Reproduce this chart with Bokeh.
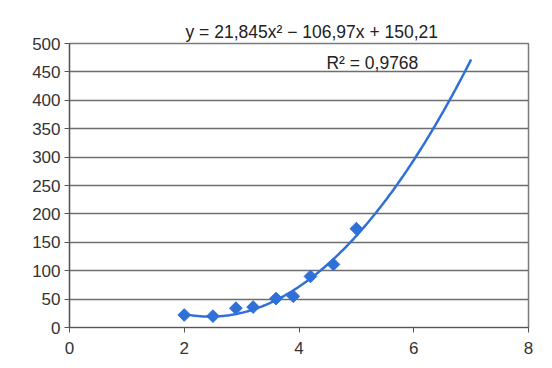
import numpy as np
from bokeh.plotting import figure
from bokeh.models import Range1d, FixedTicker, Label, Title
from bokeh.embed import file_html
from bokeh.resources import INLINE

# Measured points
x_vals = [2.0, 2.5, 2.9, 3.2, 3.6, 3.9, 4.2, 4.6, 5.0]
y_vals = [22, 20, 34, 36, 51, 55, 90, 111, 174]

# Trendline coefficients as printed on the chart
a2, a1, a0 = 21.845, -106.97, 150.21
trend_x_start, trend_x_end = 2.0, 7.0

x_ticks = [0, 2, 4, 6, 8]
y_ticks = [0, 50, 100, 150, 200, 250, 300, 350, 400, 450, 500]

BLUE = "#2f6fd8"
FONT = "Liberation Sans"

p = figure(width=544, height=360, output_backend="svg", toolbar_location=None,
           x_range=Range1d(0, 8), y_range=Range1d(0, 500),
           min_border_left=69, min_border_right=16, min_border_top=43, min_border_bottom=33)
p.outline_line_color = "#7a7a7a"
p.outline_line_width = 1.5
p.background_fill_color = "white"

p.xgrid.grid_line_color = None
p.ygrid.grid_line_color = "#6e6e6e"
p.ygrid.grid_line_width = 1.5

p.xaxis.ticker = FixedTicker(ticks=x_ticks)
p.yaxis.ticker = FixedTicker(ticks=y_ticks)
for ax in (p.xaxis[0], p.yaxis[0]):
    ax.axis_line_color = "#555555"
    ax.axis_line_width = 1.2
    ax.major_tick_line_color = "#555555"
    ax.major_tick_in = 0
    ax.major_tick_out = 5
    ax.minor_tick_line_color = None
    ax.major_label_text_font = FONT
    ax.major_label_text_font_size = "17px"
    ax.major_label_text_color = "#333333"
p.xaxis.major_label_standoff = 9
p.yaxis.major_label_standoff = 4

xs = np.linspace(trend_x_start, trend_x_end, 200)
ys = a2 * xs**2 + a1 * xs + a0
p.line(xs, ys, line_color=BLUE, line_width=2.5)
p.scatter(x_vals, y_vals, marker="square", angle=np.pi / 4, size=9,
          fill_color=BLUE, line_color=BLUE)

eq = Title(text="y = 21,845x² − 106,97x + 150,21", align="left", offset=116, standoff=3,
           text_font=FONT, text_font_size="17.5px", text_color="#222222", text_font_style="normal")
p.add_layout(eq, "above")

r2 = Label(x=6.08, y=465, text="R² = 0,9768", text_align="right", text_baseline="middle",
           text_font=FONT, text_font_size="17.5px", text_color="#222222")
p.add_layout(r2)

open("out.html", "w").write(file_html(p, INLINE))
